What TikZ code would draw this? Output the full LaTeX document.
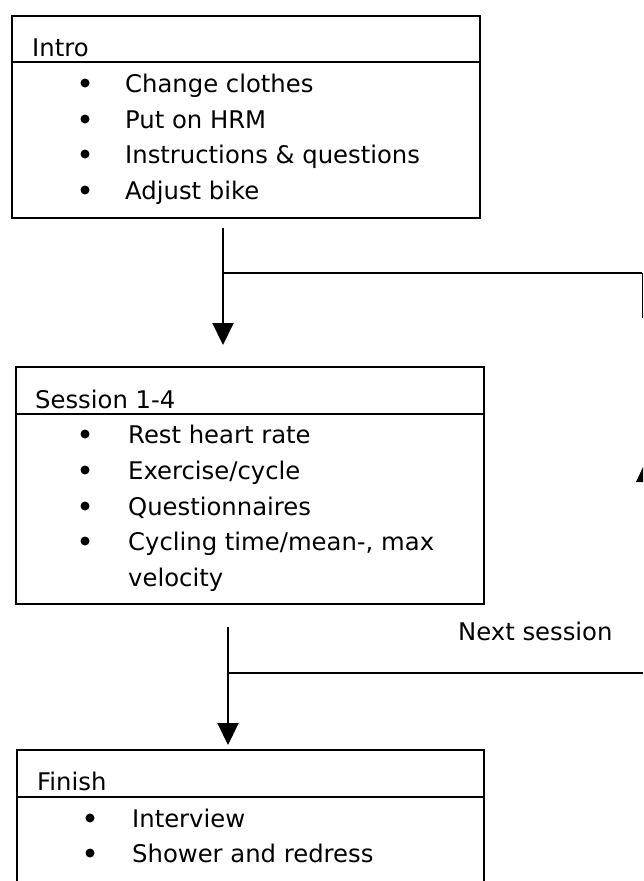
\documentclass[tikz,border=0pt]{standalone}
\usepackage{fontspec}
\setmainfont{DejaVu Sans}
\usetikzlibrary{arrows.meta}
\begin{document}
\begin{tikzpicture}[x=1pt,y=-1pt,
  box/.style={draw, line width=2pt, rectangle, inner sep=0pt, anchor=north west},
  txt/.style={anchor=base west, inner sep=0pt, font=\fontsize{24.3}{29}\selectfont},
  conn/.style={line width=2pt},
  arr/.style={line width=2pt, -{Triangle[width=21pt,length=22pt]}},
  bul/.style={fill=black}
]
\useasboundingbox (0,0) rectangle (643,881);

% ---------- Intro box ----------
\node[box, minimum width=468pt, minimum height=202pt] (intro) at (11,15) {};
\draw[conn] (intro.west |- 0,62) -- (intro.east |- 0,62);
\node[txt] (introh) at (32,56) {Intro};
\node[txt] (i1) at (125,92) {Change clothes};
\node[txt] (i2) at (125,128) {Put on HRM};
\node[txt] (i3) at (125,163) {Instructions \& questions};
\node[txt] (i4) at (125,199) {Adjust bike};
\foreach \y in {92,128,163,199} \fill[bul] (85,\y-9) circle (4.5pt);

% ---------- Session box ----------
\node[box, minimum width=468pt, minimum height=237pt] (session) at (15,366) {};
\draw[conn] (session.west |- 0,414) -- (session.east |- 0,414);
\node[txt] (sessh) at (35,408) {Session 1-4};
\node[txt] (s1) at (128,443) {Rest heart rate};
\node[txt] (s2) at (128,479) {Exercise/cycle};
\node[txt] (s3) at (128,515) {Questionnaires};
\node[txt] (s4) at (128,550) {Cycling time/mean-, max};
\node[txt] (s5) at (128,586) {velocity};
\foreach \y in {443,479,515,550} \fill[bul] (85,\y-9) circle (4.5pt);

% ---------- Finish box (open at the bottom) ----------
\coordinate (fnw) at (17,750);
\coordinate (fne) at (484,750);
\draw[conn] (fnw |- 0,881) -- (fnw) -- (fne) -- (fne |- 0,881);
\draw[conn] (fnw |- 0,797) -- (fne |- 0,797);
\node[txt] (finh) at (37,790) {Finish};
\node[txt] (f1) at (132,827) {Interview};
\node[txt] (f2) at (132,862) {Shower and redress};
\foreach \y in {827,862} \fill[bul] (90,\y-9) circle (4.5pt);

% ---------- Connectors ----------
\coordinate (a1s) at (223,228);
\coordinate (a1e) at (223,345);
\coordinate (j1) at (223,273);
\coordinate (r1) at (642,273);
\coordinate (r1b) at (642,318);
\draw[arr] (a1s) -- (a1e);
\draw[conn] (j1) -- (r1);
\draw[line width=1pt] (r1) -- (r1b);

\coordinate (a2s) at (228,627);
\coordinate (a2e) at (228,745);
\coordinate (j2) at (228,673);
\coordinate (r2) at (643,673);
\draw[arr] (a2s) -- (a2e);
\draw[conn] (j2) -- (r2);

% partial upward arrowhead at the right edge
\fill (636,482) -- (643,467) -- (643,482) -- cycle;

\node[txt] (next) at (458,640) {Next session};
\end{tikzpicture}
\end{document}
